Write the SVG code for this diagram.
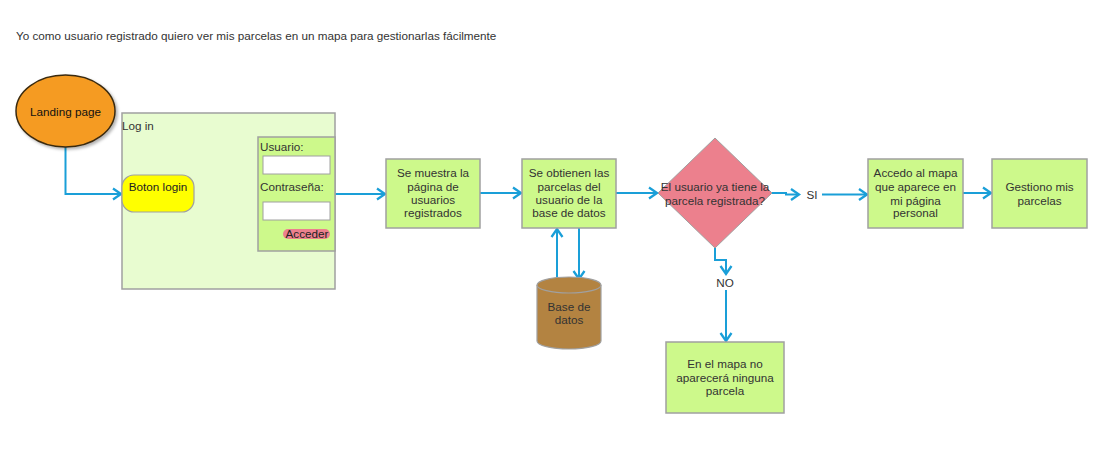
<svg xmlns="http://www.w3.org/2000/svg" width="1112" height="449" viewBox="0 0 1112 449">
<defs>
<style>
text{font-family:"Liberation Sans",Arial,sans-serif;font-size:11.7px;fill:#333}
.c{text-anchor:middle}
.box{fill:#cdf98b;stroke:#a0a0a0;stroke-width:1.5}
.edge{fill:none;stroke:#1a9fd8;stroke-width:2}
</style>
<marker id="arr" markerUnits="userSpaceOnUse" markerWidth="12" markerHeight="14" refX="9" refY="7" orient="auto">
<path d="M1,1.5 L9,7 L1,12.5" fill="none" stroke="#1a9fd8" stroke-width="2.3"/>
</marker>
<filter id="sh" x="-20%" y="-20%" width="150%" height="150%">
<feDropShadow dx="2" dy="2" stdDeviation="1.5" flood-color="#000" flood-opacity="0.3"/>
</filter>
</defs>
<rect width="1112" height="449" fill="#fff"/>
<text id="title" x="16" y="40">Yo como usuario registrado quiero ver mis parcelas en un mapa para gestionarlas fácilmente</text>

<g id="connectors">
<path class="edge" d="M65.5,147 V194 H121" marker-end="url(#arr)"/>
<path class="edge" d="M194,194 H257" marker-end="url(#arr)"/>
<path class="edge" d="M335,194 H385" marker-end="url(#arr)"/>
<path class="edge" d="M480,193 H521" marker-end="url(#arr)"/>
<path class="edge" d="M616,193 H657" marker-end="url(#arr)"/>
<path class="edge" d="M557,278 V229" marker-end="url(#arr)"/>
<path class="edge" d="M579,228 V279" marker-end="url(#arr)"/>
<path class="edge" d="M772,193 H786 V194.5 H799" marker-end="url(#arr)"/>
<path class="edge" d="M822,194.5 H867" marker-end="url(#arr)"/>
<path class="edge" d="M963,193 H991" marker-end="url(#arr)"/>
<path class="edge" d="M715,248 V260 H726 V274" marker-end="url(#arr)"/>
<path class="edge" d="M726,290 V341" marker-end="url(#arr)"/>
<text class="c" x="812" y="199">SI</text>
<text class="c" x="725" y="287">NO</text>
</g>

<g id="landing">
<ellipse cx="65.5" cy="111" rx="49.5" ry="36" fill="#f59b24" stroke="#3a2a10" stroke-width="1.5" filter="url(#sh)"/>
<text class="c" x="65.5" y="116" style="fill:#111">Landing page</text>
</g>

<g id="login">
<rect x="122" y="113" width="213" height="176" fill="#e8fcd0" stroke="#a0a0a0" stroke-width="1.5"/>
<text x="122" y="130">Log in</text>
</g>

<g id="boton">
<rect x="122" y="175" width="72" height="37" rx="12" fill="#ffff00" stroke="#a0a0a0" stroke-width="1.2"/>
<text class="c" x="158" y="191" style="fill:#222">Boton login</text>
</g>

<g id="form">
<rect x="258" y="137" width="77" height="114" fill="#cdf98b" stroke="#a0a0a0" stroke-width="1.5"/>
<text x="260" y="151">Usuario:</text>
<rect x="263" y="156" width="67" height="18" fill="#fff" stroke="#a0a0a0" stroke-width="1"/>
<text x="260" y="191">Contraseña:</text>
<rect x="263" y="202" width="67" height="18" fill="#fff" stroke="#a0a0a0" stroke-width="1"/>
<rect x="283" y="229" width="47" height="10" rx="5" fill="#ec808d"/>
<text class="c" x="307" y="238" style="fill:#222">Acceder</text>
</g>

<g id="box1">
<rect class="box" x="386" y="159" width="94" height="69"/>
<text class="c" x="433" y="177">Se muestra la</text>
<text class="c" x="433" y="191">página de</text>
<text class="c" x="433" y="204">usuarios</text>
<text class="c" x="433" y="217">registrados</text>
</g>

<g id="box2">
<rect class="box" x="522" y="159" width="94" height="69"/>
<text class="c" x="569" y="177">Se obtienen las</text>
<text class="c" x="569" y="191">parcelas del</text>
<text class="c" x="569" y="204">usuario de la</text>
<text class="c" x="569" y="217">base de datos</text>
</g>

<g id="db">
<path d="M537,285 V341 A32,8 0 0 0 601,341 V285" fill="#b38341" stroke="#a0a0a0" stroke-width="1.2"/>
<ellipse cx="569" cy="285" rx="32" ry="8" fill="#b38341" stroke="#a0a0a0" stroke-width="1.2"/>
<text class="c" x="569" y="311">Base de</text>
<text class="c" x="569" y="324">datos</text>
</g>

<g id="decision">
<polygon points="715,138 772,193 715,248 658,193" fill="#ec808d" stroke="#a0a0a0" stroke-width="1"/>
<text class="c" x="715" y="191">El usuario ya tiene la</text>
<text class="c" x="715" y="205">parcela registrada?</text>
</g>

<g id="box3">
<rect class="box" x="868" y="159" width="95" height="69"/>
<text class="c" x="915.5" y="177">Accedo al mapa</text>
<text class="c" x="915.5" y="191">que aparece en</text>
<text class="c" x="915.5" y="205">mi página</text>
<text class="c" x="915.5" y="217">personal</text>
</g>

<g id="box4">
<rect class="box" x="992" y="159" width="95" height="69"/>
<text class="c" x="1039.5" y="191">Gestiono mis</text>
<text class="c" x="1039.5" y="205">parcelas</text>
</g>

<g id="box5">
<rect class="box" x="666" y="342" width="118" height="71"/>
<text class="c" x="725" y="368">En el mapa no</text>
<text class="c" x="725" y="382">aparecerá ninguna</text>
<text class="c" x="725" y="395">parcela</text>
</g>
</svg>
